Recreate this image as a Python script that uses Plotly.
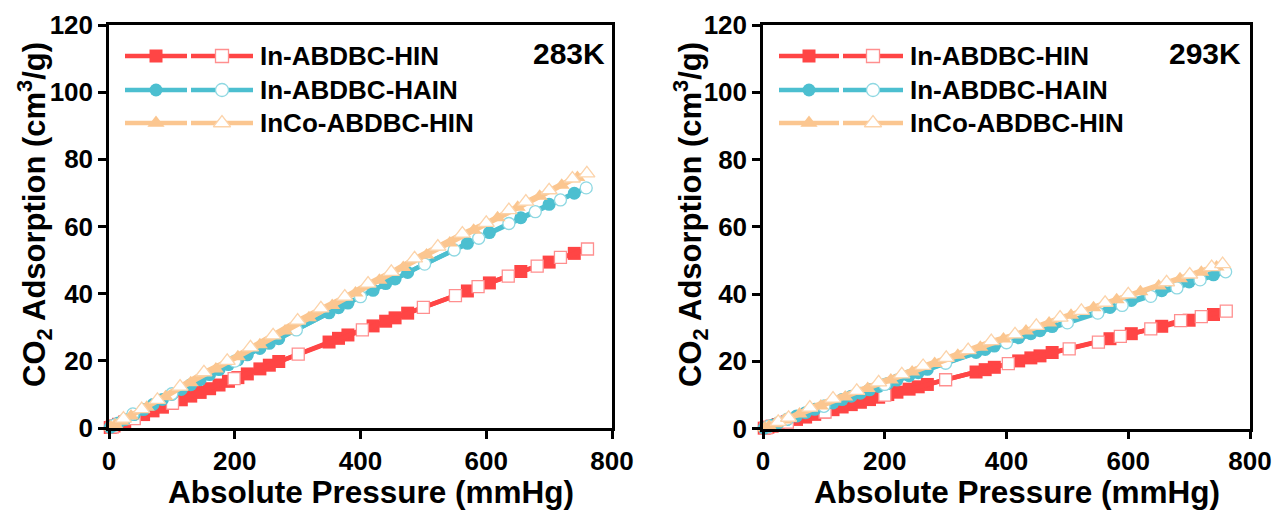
import plotly.graph_objects as go

# ---------------- data ----------------
# 283 K
p_ads_283 = [2, 8, 15, 25, 40, 55, 70, 85, 100, 115, 130, 145, 160, 175, 190, 205, 220, 240, 255, 270,
             350, 365, 380, 420, 440, 455, 475, 570, 605, 655, 700, 740]
hin_ads_283 = [0.15, 0.6, 1.1, 1.8, 2.9, 4.0, 5.1, 6.2, 7.3, 8.4, 9.5, 10.6, 11.7, 12.8, 13.9, 15.0, 16.1,
               17.6, 18.7, 19.8, 25.6, 26.7, 27.7, 30.4, 31.8, 32.8, 34.2, 40.8, 43.2, 46.6, 49.4, 52.0]
hain_ads_283 = [0.2, 0.8, 1.5, 2.5, 4.0, 5.5, 7.0, 8.5, 10.0, 11.5, 12.9, 14.4, 15.9, 17.4, 18.9, 20.3, 21.8,
                23.7, 25.2, 26.6, 34.3, 35.8, 37.2, 41.0, 43.0, 44.4, 46.3, 55.0, 58.2, 62.6, 66.6, 69.9]
p_hin_des_283 = [5, 40, 101, 199, 301, 403, 500, 551, 587, 635, 681, 718, 761]
hin_des_283 = [0.3, 2.8, 7.4, 14.7, 22.0, 29.2, 35.9, 39.4, 42.1, 45.2, 48.2, 50.8, 53.3]
p_hain_des_283 = [10, 38, 100, 200, 298, 400, 502, 549, 588, 636, 678, 718, 759]
hain_des_283 = [1.0, 4.2, 10.2, 19.9, 29.2, 39.1, 48.8, 53.0, 56.5, 60.9, 64.4, 67.9, 71.5]
p_co_ads_283 = [3, 10, 20, 35, 60, 90, 130, 170, 205, 240, 280, 318, 355, 392, 430, 468, 505, 542, 580,
                618, 650, 685, 720, 745]
co_ads_283 = [0.3, 1.0, 2.0, 3.6, 6.2, 9.3, 13.5, 17.6, 21.2, 24.8, 28.9, 32.8, 36.5, 40.2, 44.0, 47.8,
              51.5, 55.1, 58.9, 62.6, 65.7, 69.0, 72.3, 74.6]
p_co_des_283 = [23, 52, 77, 113, 151, 188, 225, 261, 300, 337, 375, 412, 449, 486, 523, 562, 600, 636,
                663, 700, 737, 760]
co_des_283 = [2.8, 5.6, 8.4, 12.3, 16.6, 20.0, 24.0, 27.6, 32.0, 35.6, 39.1, 43.0, 46.5, 50.5, 54.0, 57.9,
              61.1, 64.9, 67.4, 70.8, 74.3, 75.8]

# 293 K
p_ads_293 = [2, 8, 15, 25, 40, 55, 70, 85, 100, 115, 130, 145, 160, 175, 190, 205, 220, 240, 255, 270,
             350, 365, 380, 420, 440, 455, 475, 570, 605, 655, 700, 740]
hin_ads_293 = [0.1, 0.4, 0.7, 1.2, 2.0, 2.7, 3.4, 4.2, 4.9, 5.6, 6.4, 7.1, 7.8, 8.6, 9.3, 10.1, 10.8,
               11.7, 12.4, 13.1, 16.8, 17.5, 18.2, 20.1, 21.0, 21.6, 22.6, 26.7, 28.2, 30.4, 32.2, 33.9]
hain_ads_293 = [0.1, 0.5, 1.0, 1.7, 2.7, 3.7, 4.7, 5.7, 6.7, 7.6, 8.6, 9.6, 10.5, 11.5, 12.5, 13.4, 14.4,
                15.7, 16.6, 17.6, 22.6, 23.5, 24.5, 27.0, 28.2, 29.1, 30.3, 36.0, 38.1, 41.0, 43.6, 45.7]
p_hin_des_293 = [5, 40, 102, 200, 300, 403, 503, 551, 587, 637, 686, 720, 761]
hin_des_293 = [0.2, 1.9, 4.9, 9.9, 14.5, 19.3, 23.7, 25.7, 27.4, 29.6, 32.1, 33.3, 34.9]
p_hain_des_293 = [10, 40, 100, 200, 300, 400, 500, 550, 590, 637, 680, 718, 760]
hain_des_293 = [0.7, 2.8, 6.6, 13.1, 19.4, 25.5, 31.4, 34.3, 36.6, 39.3, 41.8, 44.2, 46.6]
p_co_ads_293 = [3, 10, 20, 35, 60, 95, 135, 172, 210, 245, 282, 320, 357, 395, 432, 470, 506, 543, 581,
                620, 650, 685, 720, 745]
co_ads_293 = [0.2, 0.7, 1.4, 2.5, 4.3, 6.7, 9.4, 11.9, 14.4, 16.8, 19.3, 21.8, 24.2, 26.6, 29.0, 31.4,
              33.7, 35.9, 38.3, 40.7, 42.4, 44.5, 46.5, 48.0]
p_co_des_293 = [25, 42, 77, 115, 154, 190, 228, 263, 301, 337, 375, 414, 449, 488, 523, 562, 600, 663,
                701, 737, 755]
co_des_293 = [2.0, 3.2, 6.2, 8.9, 11.2, 13.7, 16.1, 18.6, 21.0, 23.3, 26.0, 28.0, 30.5, 33.0, 35.0, 37.4,
              39.9, 43.5, 45.8, 48.0, 48.9]

series_names = ["In-ABDBC-HIN", "In-ABDBC-HAIN", "InCo-ABDBC-HIN"]
temps = ["283K", "293K"]
x_title_text = "Absolute Pressure (mmHg)"
y_title_text = "CO<sub>2</sub> Adsorption (cm<sup>3</sup>/g)"
x_ticks = [0, 200, 400, 600, 800]
y_ticks = [0, 20, 40, 60, 80, 100, 120]

# ---------------- style ----------------
colors = ["#FF4545", "#4CBFD0", "#FBC690"]
open_edge = ["#FF8F8F", "#8ED8E2", "#FCD3AA"]
symbols = ["square", "circle", "triangle-up"]
FONT = "Liberation Sans, Arial, sans-serif"
W, H = 1279, 510

fig = go.Figure()

panels = [
    ("x", "y", [
        (p_ads_283, hin_ads_283, p_hin_des_283, hin_des_283),
        (p_ads_283, hain_ads_283, p_hain_des_283, hain_des_283),
        (p_co_ads_283, co_ads_283, p_co_des_283, co_des_283),
    ]),
    ("x2", "y2", [
        (p_ads_293, hin_ads_293, p_hin_des_293, hin_des_293),
        (p_ads_293, hain_ads_293, p_hain_des_293, hain_des_293),
        (p_co_ads_293, co_ads_293, p_co_des_293, co_des_293),
    ]),
]

for xa, ya, sers in panels:
    for i, (pa, va, pd_, vd) in enumerate(sers):
        fig.add_trace(go.Scatter(
            x=pa, y=va, xaxis=xa, yaxis=ya, mode="lines+markers", showlegend=False,
            cliponaxis=False,
            line=dict(color=colors[i], width=4.5),
            marker=dict(symbol=symbols[i], size=13 if i != 2 else 14, color=colors[i],
                        line=dict(width=0))))
        fig.add_trace(go.Scatter(
            x=pd_, y=vd, xaxis=xa, yaxis=ya, mode="lines+markers", showlegend=False,
            cliponaxis=False,
            line=dict(color=colors[i], width=4.5),
            marker=dict(symbol=symbols[i], size=12 if i != 2 else 14, color="white",
                        line=dict(width=1.3, color=open_edge[i]))))

# ---------------- manual legend (pixel overlay axis) ----------------
leg_rows_y = [56, 90, 123]
leg_layout = [  # (filled line start, end, open line start, end, text x)
    (125, 187, 191, 253, 258),
    (779, 839, 843, 903, 908),
]
for (f0, f1, o0, o1, tx) in leg_layout:
    for i, yy in enumerate(leg_rows_y):
        for (a, b, filled) in [(f0, f1, True), (o0, o1, False)]:
            fig.add_trace(go.Scatter(
                x=[a, b], y=[yy, yy], xaxis="x3", yaxis="y3", mode="lines", showlegend=False,
                hoverinfo="skip", line=dict(color=colors[i], width=4.5)))
            fig.add_trace(go.Scatter(
                x=[(a + b) / 2], y=[yy], xaxis="x3", yaxis="y3", mode="markers", showlegend=False,
                hoverinfo="skip",
                marker=dict(symbol=symbols[i], size=13 if i != 2 else 15,
                            color=colors[i] if filled else "white",
                            line=dict(width=0 if filled else 1.3, color=open_edge[i]))))
        fig.add_annotation(x=tx, y=yy, xref="x3", yref="y3", text=series_names[i], showarrow=False,
                           xanchor="left", yanchor="middle",
                           font=dict(family=FONT, size=26, color="black", weight="bold"))

# temperature labels
for xr, tlabel in [(607, temps[0]), (1243, temps[1])]:
    fig.add_annotation(x=xr, y=53, xref="x3", yref="y3", text=tlabel, showarrow=False,
                       xanchor="right", yanchor="middle",
                       font=dict(family=FONT, size=30, color="black", weight="bold"))

# axis titles (placed as in the reference, slightly off-centre)
for xc in [371, 1017]:
    fig.add_annotation(x=xc, y=492, xref="x3", yref="y3", text=x_title_text, showarrow=False,
                       xanchor="center", yanchor="middle",
                       font=dict(family=FONT, size=31.5, color="black", weight="bold"))
for xc in [34, 690]:
    fig.add_annotation(x=xc, y=215, xref="x3", yref="y3", text=y_title_text, showarrow=False,
                       textangle=-90, xanchor="center", yanchor="middle",
                       font=dict(family=FONT, size=31, color="black", weight="bold"))

axis_common = dict(
    showgrid=False, zeroline=False, showline=True, linecolor="black", linewidth=2.5, mirror=True,
    ticks="outside", ticklen=8, tickwidth=2.5, tickcolor="black", automargin=False,
    tickfont=dict(family=FONT, size=26, color="black", weight="bold"),
)

fig.update_layout(
    width=W, height=H, autosize=False,
    margin=dict(l=0, r=0, t=0, b=0, autoexpand=False),
    paper_bgcolor="white", plot_bgcolor="rgba(0,0,0,0)",
    showlegend=False,
    xaxis=dict(domain=[109 / W, 612 / W], anchor="y", range=[0, 800], tickvals=x_ticks, **axis_common),
    yaxis=dict(domain=[1 - 428 / H, 1 - 25 / H], anchor="x", range=[0, 120], tickvals=y_ticks, **axis_common),
    xaxis2=dict(domain=[763 / W, 1250 / W], anchor="y2", range=[0, 800], tickvals=x_ticks, **axis_common),
    yaxis2=dict(domain=[1 - 428.5 / H, 1 - 25 / H], anchor="x2", range=[0, 120], tickvals=y_ticks, **axis_common),
    xaxis3=dict(domain=[0, 1], range=[0, W], visible=False, fixedrange=True, automargin=False),
    yaxis3=dict(domain=[0, 1], range=[H, 0], visible=False, fixedrange=True, anchor="x3",
                automargin=False),
)

fig.write_html("out.html")
